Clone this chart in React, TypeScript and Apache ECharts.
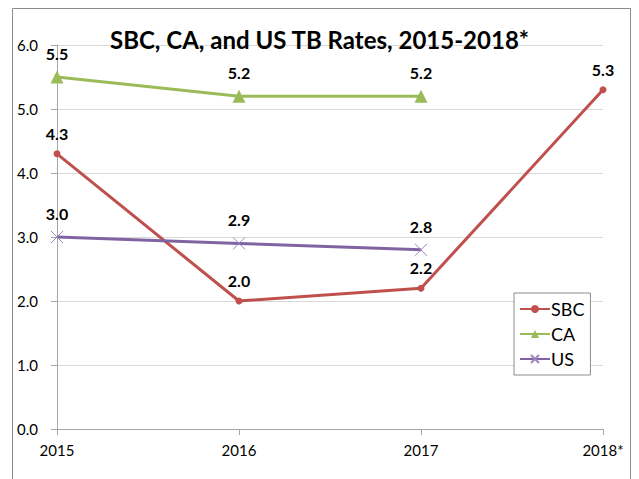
import React, { useEffect, useRef } from "react";
import * as echarts from "echarts";

const categories = ["2015", "2016", "2017", "2018*"];
const sbcValues = [4.3, 2.0, 2.2, 5.3];
const caValues = [5.5, 5.2, 5.2, null];
const usValues = [3.0, 2.9, 2.8, null];

const FONT = "Lato";

export default function App() {
  const ref = useRef<HTMLDivElement>(null);
  useEffect(() => {
    if (!ref.current) return;
    const chart = echarts.init(ref.current, null, { renderer: "svg" });
    const label = {
      show: true,
      position: "top",
      distance: 9,
      fontFamily: FONT,
      fontWeight: "bold",
      fontSize: 16,
      color: "#000",
      formatter: (p: any) => Number(p.value).toFixed(1),
    };
    chart.setOption({
      animation: false,
      backgroundColor: "#fff",
      title: {
        text: "SBC, CA, and US TB Rates, 2015-2018*",
        left: "center",
        top: 22,
        textStyle: { fontFamily: FONT, fontWeight: "bold", fontSize: 24, color: "#000" },
      },
      graphic: [
        {
          type: "rect",
          shape: { x: 12.5, y: 8.5, width: 618, height: 480 },
          style: { fill: "none", stroke: "#8c8c8c", lineWidth: 1 },
          silent: true,
        },
      ],
      legend: {
        orient: "vertical",
        left: 514,
        top: 293,
        padding: [7, 6, 7, 5],
        itemGap: 7,
        itemWidth: 30,
        itemHeight: 10,
        borderColor: "#8c8c8c",
        borderWidth: 1,
        backgroundColor: "#fff",
        textStyle: { fontFamily: FONT, fontSize: 18, color: "#000", padding: [0, 0, 0, -4] },
        data: ["SBC", "CA", "US"],
      },
      grid: { left: 57, right: 36, top: 45, bottom: 50 },
      xAxis: {
        type: "category",
        data: categories,
        boundaryGap: false,
        axisLine: { lineStyle: { color: "#a6a6a6" } },
        axisTick: { show: true, length: 6, lineStyle: { color: "#a6a6a6" } },
        axisLabel: { fontFamily: FONT, fontSize: 15, color: "#000", margin: 13 },
        splitLine: { show: false },
      },
      yAxis: {
        type: "value",
        min: 0,
        max: 6,
        interval: 1,
        axisLine: { show: true, lineStyle: { color: "#a6a6a6" } },
        axisTick: { show: true, length: 6, lineStyle: { color: "#a6a6a6" } },
        axisLabel: {
          fontFamily: FONT,
          fontSize: 15,
          color: "#000",
          margin: 19,
          formatter: (v: number) => v.toFixed(1),
        },
        splitLine: { lineStyle: { color: "#d9d9d9" } },
      },
      series: [
        {
          name: "SBC",
          type: "line",
          data: sbcValues,
          symbol: "circle",
          symbolSize: 7,
          lineStyle: { width: 3, color: "#C0504D" },
          itemStyle: { color: "#C0504D" },
          label,
        },
        {
          name: "CA",
          type: "line",
          data: caValues,
          symbol: "triangle",
          symbolSize: 13,
          lineStyle: { width: 3, color: "#9BBB59" },
          itemStyle: { color: "#9BBB59" },
          label,
        },
        {
          name: "US",
          type: "line",
          data: usValues,
          symbol: "path://M0,0L10,10M10,0L0,10",
          symbolSize: 12,
          lineStyle: { width: 3, color: "#8064A2" },
          itemStyle: { color: "#9d86bf", borderColor: "#9d86bf", borderWidth: 1 },
          label,
        },
      ],
    });
    return () => chart.dispose();
  }, []);
  return <div ref={ref} style={{ width: 639, height: 479, position: "absolute", left: 0, top: 0 }} />;
}
